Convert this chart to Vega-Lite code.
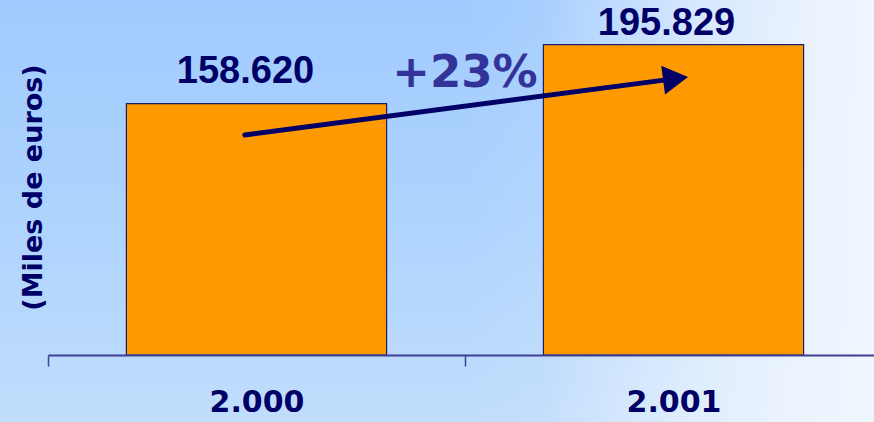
{
  "$schema": "https://vega.github.io/schema/vega-lite/v6.json",
  "width": 874,
  "height": 422,
  "autosize": "none",
  "padding": 0,
  "background": "#AED3FD",
  "config": {
    "view": {"stroke": null},
    "locale": {"number": {"decimal": ",", "thousands": ".", "grouping": [3], "currency": ["", " €"]}}
  },
  "datasets": {
    "ventas": [
      {"anio": "2.000", "valor": 158620},
      {"anio": "2.001", "valor": 195829}
    ],
    "flecha": [{"x0": 0.472, "y0": 138800, "x1": 1.505, "y1": 174400}],
    "rotulo": [{"xt": 1.0, "yt": 169100, "texto": "+23%"}],
    "fondo": [{"capa": "fondo"}]
  },
  "layer": [
    {
      "data": {"name": "fondo"},
      "mark": {
        "type": "rect",
        "fill": {
          "gradient": "linear", "x1": 0, "y1": 0, "x2": 0, "y2": 1,
          "stops": [
            {"offset": 0, "color": "#A1CBFE"},
            {"offset": 0.5, "color": "#ADD3FE"},
            {"offset": 1, "color": "#C1DDFC"}
          ]
        }
      },
      "encoding": {}
    },
    {
      "data": {"name": "fondo"},
      "mark": {
        "type": "rect",
        "fill": {
          "gradient": "linear", "x1": 0, "y1": 0, "x2": 1, "y2": 0,
          "stops": [
            {"offset": 0, "color": "rgba(240,246,254,0)"},
            {"offset": 0.53, "color": "rgba(240,246,254,0)"},
            {"offset": 0.62, "color": "rgba(240,246,254,0.08)"},
            {"offset": 0.71, "color": "rgba(240,246,254,0.4)"},
            {"offset": 0.8, "color": "rgba(240,246,254,0.67)"},
            {"offset": 0.9, "color": "rgba(240,246,254,0.88)"},
            {"offset": 1, "color": "rgba(240,246,254,1)"}
          ]
        }
      },
      "encoding": {}
    },
    {
      "data": {"name": "ventas"},
      "encoding": {
        "x": {
          "field": "anio", "type": "nominal", "sort": null,
          "scale": {"range": [48, 882], "paddingInner": 0.376, "paddingOuter": 0.188},
          "axis": {
            "title": null, "labelAngle": 0, "labelFont": "DejaVu Sans", "labelFontWeight": "bold",
            "labelFontSize": 30, "labelColor": "#000066", "labelBaseline": "alphabetic",
            "labelPadding": 45, "labelFlush": false, "labelOverlap": false,
            "tickSize": 11, "tickWidth": 1.5, "tickColor": "#3F3F95",
            "tickOffset": -208.5, "labelOffset": 208.5,
            "domainColor": "#3F3F95", "domainWidth": 2,
            "offset": -67, "grid": false, "zindex": 1
          }
        },
        "y": {
          "field": "valor", "type": "quantitative",
          "scale": {"domain": [0, 224000], "range": [355, 0], "nice": false, "zero": true},
          "axis": {
            "title": "(Miles de euros)", "labels": false, "ticks": false, "domain": false, "grid": false,
            "titleFont": "DejaVu Sans", "titleFontWeight": "bold", "titleFontSize": 27,
            "titleColor": "#000066", "titleAngle": 270, "titleX": 33, "titleY": 187,
            "titleAlign": "center", "titleBaseline": "middle", "zindex": 1
          }
        }
      },
      "layer": [
        {"mark": {"type": "bar", "fill": "#FF9900", "stroke": "#1C1C6A", "strokeWidth": 1.2}},
        {
          "transform": [{"filter": "datum.anio === '2.000'"}],
          "mark": {"type": "text", "font": "Liberation Sans", "fontWeight": "bold", "fontSize": 38,
                   "color": "#000066", "align": "center", "baseline": "alphabetic", "dx": -11, "dy": -21},
          "encoding": {"text": {"field": "valor", "type": "quantitative", "format": ",.0f"}}
        },
        {
          "transform": [{"filter": "datum.anio === '2.001'"}],
          "mark": {"type": "text", "font": "Liberation Sans", "fontWeight": "bold", "fontSize": 38,
                   "color": "#000066", "align": "center", "baseline": "alphabetic", "dx": -7, "dy": -10},
          "encoding": {"text": {"field": "valor", "type": "quantitative", "format": ",.0f"}}
        }
      ]
    },
    {
      "layer": [
        {
          "data": {"name": "flecha"},
          "mark": {"type": "rule", "color": "#000066", "strokeWidth": 5, "strokeCap": "round"},
          "encoding": {
            "x": {"field": "x0", "type": "quantitative", "scale": {"domain": [0, 2], "range": [48, 882], "nice": false, "zero": false}, "axis": null},
            "x2": {"field": "x1"},
            "y": {"field": "y0", "type": "quantitative", "scale": {"domain": [0, 224000], "range": [355, 0], "nice": false}, "axis": null},
            "y2": {"field": "y1"}
          }
        },
        {
          "data": {"name": "flecha"},
          "mark": {"type": "point", "shape": "triangle-right", "filled": true, "size": 841, "angle": 352.5,
                   "color": "#000066", "opacity": 1, "strokeWidth": 0},
          "encoding": {
            "x": {"field": "x1", "type": "quantitative", "axis": null},
            "y": {"field": "y1", "type": "quantitative", "axis": null}
          }
        },
        {
          "data": {"name": "rotulo"},
          "mark": {"type": "text", "font": "DejaVu Sans", "fontWeight": "bold", "fontSize": 45,
                   "color": "#333399", "align": "center", "baseline": "alphabetic"},
          "encoding": {
            "x": {"field": "xt", "type": "quantitative", "axis": null},
            "y": {"field": "yt", "type": "quantitative", "axis": null},
            "text": {"field": "texto"}
          }
        }
      ]
    }
  ],
  "resolve": {
    "scale": {"x": "independent", "y": "independent"},
    "axis": {"x": "independent", "y": "independent"}
  }
}
